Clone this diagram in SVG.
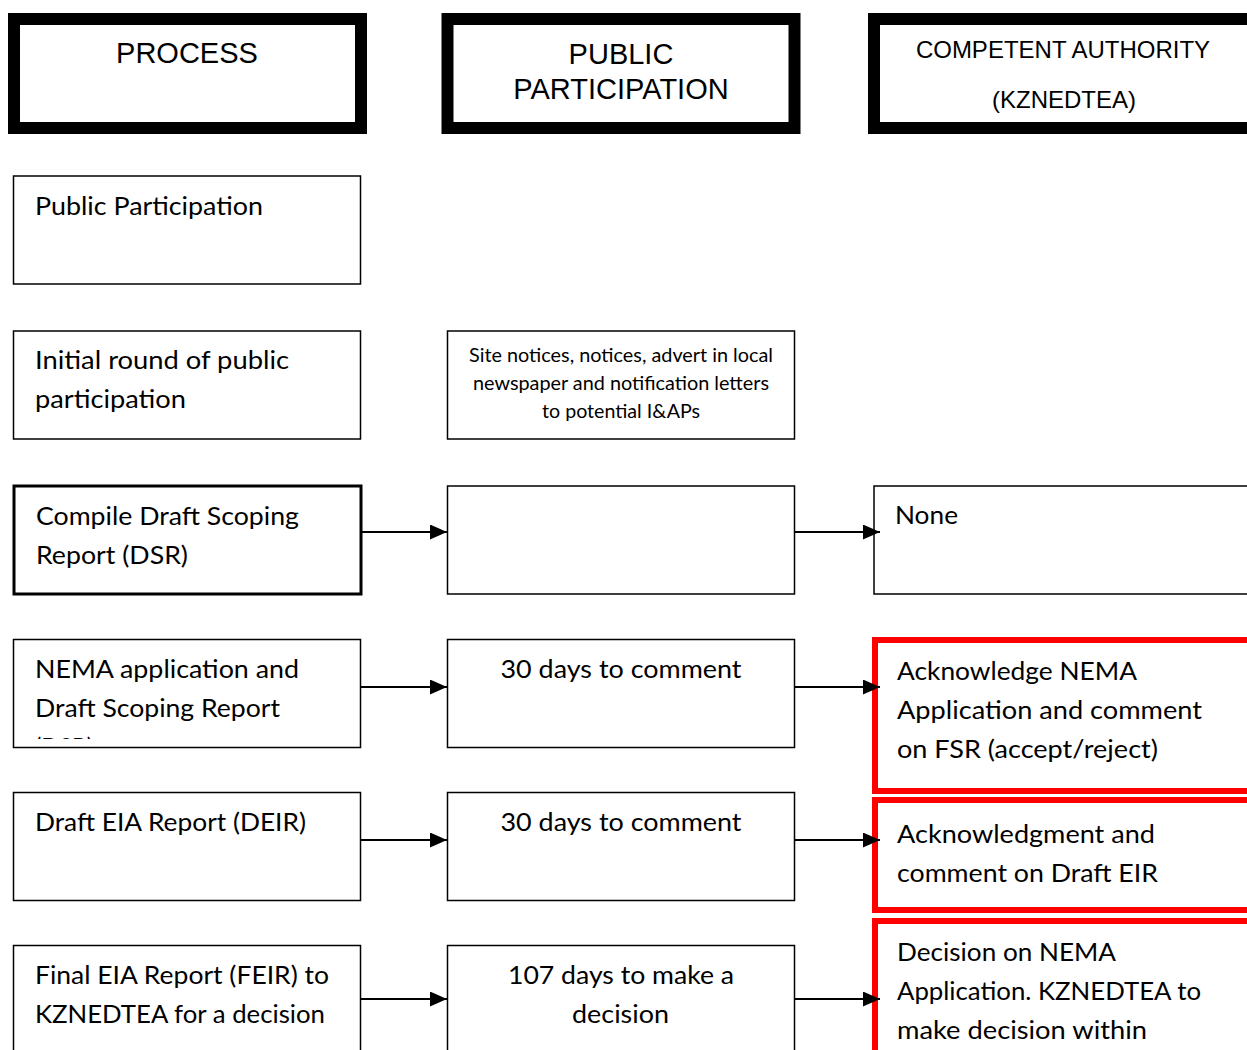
<svg xmlns="http://www.w3.org/2000/svg" width="1247" height="1050" viewBox="0 0 1247 1050">
<style>
.hdr{fill:#fff;stroke:#000;stroke-width:12}
.box{fill:#fff;stroke:#000;stroke-width:1.5}
.thick{fill:#fff;stroke:#000;stroke-width:3}
.red{fill:#fff;stroke:#ff0000;stroke-width:6}
.ht{font-family:"Liberation Sans",Arial,sans-serif;font-size:29px;fill:#000;text-anchor:middle}
.ht2{font-family:"Liberation Sans",Arial,sans-serif;font-size:24px;fill:#000;text-anchor:middle}
.t{font-family:Lato,"Open Sans",sans-serif;font-size:25px;fill:#000}
.s{font-family:Lato,"Open Sans",sans-serif;font-size:19px;fill:#000;text-anchor:middle}
.c{text-anchor:middle}
.conn line{stroke:#000;stroke-width:1.8}
</style>
<defs>
<marker id="ah" markerUnits="userSpaceOnUse" markerWidth="17" markerHeight="15" refX="17" refY="7.5" orient="auto">
<path d="M0,0 L17,7.5 L0,15 z" fill="#000"/>
</marker>
<clipPath id="clipNema"><rect x="13" y="639" width="348" height="100"/></clipPath>
</defs>
<rect width="1247" height="1050" fill="#fff"/>

<g id="hdr-process">
<rect class="hdr" x="14" y="19" width="347" height="109"/>
<text class="ht" x="187" y="63">PROCESS</text>
</g>
<g id="hdr-public">
<rect class="hdr" x="447.5" y="19" width="347" height="109"/>
<text class="ht" x="621" y="64">PUBLIC</text>
<text class="ht" x="621" y="99">PARTICIPATION</text>
</g>
<g id="hdr-authority">
<rect class="hdr" x="874" y="19" width="420" height="109"/>
<text class="ht2" x="1063" y="58">COMPETENT AUTHORITY</text>
<text class="ht2" x="1064" y="108">(KZNEDTEA)</text>
</g>

<g id="n-public-participation">
<rect class="box" x="13.5" y="176" width="347" height="108"/>
<text class="t" x="35" y="215" textLength="228" lengthAdjust="spacingAndGlyphs">Public Participation</text>
</g>
<g id="n-initial">
<rect class="box" x="13.5" y="331" width="347" height="108"/>
<text class="t" x="35" y="369" textLength="254" lengthAdjust="spacingAndGlyphs">Initial round of public</text>
<text class="t" x="35" y="408" textLength="151" lengthAdjust="spacingAndGlyphs">participation</text>
</g>
<g id="n-site-notices">
<rect class="box" x="447.5" y="331" width="347" height="108"/>
<text class="s" x="621" y="362" textLength="304" lengthAdjust="spacingAndGlyphs">Site notices, notices, advert in local</text>
<text class="s" x="621" y="390" textLength="296" lengthAdjust="spacingAndGlyphs">newspaper and notification letters</text>
<text class="s" x="621" y="418" textLength="158" lengthAdjust="spacingAndGlyphs">to potential I&amp;APs</text>
</g>

<g id="n-compile-dsr">
<rect class="thick" x="14" y="486" width="347" height="108"/>
<text class="t" x="36" y="525" textLength="263" lengthAdjust="spacingAndGlyphs">Compile Draft Scoping</text>
<text class="t" x="36" y="564" textLength="152" lengthAdjust="spacingAndGlyphs">Report (DSR)</text>
</g>
<g id="n-dsr-pp">
<rect class="box" x="447.5" y="486" width="347" height="108"/>
</g>
<g id="n-none">
<rect class="box" x="874" y="486" width="420" height="108"/>
<text class="t" x="895" y="524" textLength="63" lengthAdjust="spacingAndGlyphs">None</text>
</g>

<g id="n-nema-dsr">
<rect class="box" x="13.5" y="639.5" width="347" height="108"/>
<text class="t" x="35" y="678" textLength="264" lengthAdjust="spacingAndGlyphs">NEMA application and</text>
<text class="t" x="35" y="717" textLength="245" lengthAdjust="spacingAndGlyphs">Draft Scoping Report</text>
<text class="t" x="35" y="756" textLength="58" lengthAdjust="spacingAndGlyphs" clip-path="url(#clipNema)">(DSR)</text>
</g>
<g id="n-30days-1">
<rect class="box" x="447.5" y="639.5" width="347" height="108"/>
<text class="t c" x="621" y="678" textLength="241" lengthAdjust="spacingAndGlyphs">30 days to comment</text>
</g>
<g id="n-ack-nema">
<rect class="red" x="875" y="640" width="420" height="151"/>
<text class="t" x="897" y="680" textLength="240" lengthAdjust="spacingAndGlyphs">Acknowledge NEMA</text>
<text class="t" x="897" y="719" textLength="305" lengthAdjust="spacingAndGlyphs">Application and comment</text>
<text class="t" x="897" y="758" textLength="261" lengthAdjust="spacingAndGlyphs">on FSR (accept/reject)</text>
</g>

<g id="n-deir">
<rect class="box" x="13.5" y="792.5" width="347" height="108"/>
<text class="t" x="35" y="831" textLength="271" lengthAdjust="spacingAndGlyphs">Draft EIA Report (DEIR)</text>
</g>
<g id="n-30days-2">
<rect class="box" x="447.5" y="792.5" width="347" height="108"/>
<text class="t c" x="621" y="831" textLength="241" lengthAdjust="spacingAndGlyphs">30 days to comment</text>
</g>
<g id="n-ack-deir">
<rect class="red" x="875" y="800" width="420" height="110"/>
<text class="t" x="897" y="843" textLength="258" lengthAdjust="spacingAndGlyphs">Acknowledgment and</text>
<text class="t" x="897" y="882" textLength="261" lengthAdjust="spacingAndGlyphs">comment on Draft EIR</text>
</g>

<g id="n-feir">
<rect class="box" x="13.5" y="945.5" width="347" height="150"/>
<text class="t" x="35" y="984" textLength="294" lengthAdjust="spacingAndGlyphs">Final EIA Report (FEIR) to</text>
<text class="t" x="35" y="1023" textLength="290" lengthAdjust="spacingAndGlyphs">KZNEDTEA for a decision</text>
</g>
<g id="n-107days">
<rect class="box" x="447.5" y="945.5" width="347" height="150"/>
<text class="t c" x="621" y="984" textLength="226" lengthAdjust="spacingAndGlyphs">107 days to make a</text>
<text class="t c" x="620.5" y="1023" textLength="97" lengthAdjust="spacingAndGlyphs">decision</text>
</g>
<g id="n-decision">
<rect class="red" x="875" y="921" width="420" height="200"/>
<text class="t" x="897" y="961" textLength="219" lengthAdjust="spacingAndGlyphs">Decision on NEMA</text>
<text class="t" x="897" y="1000" textLength="304" lengthAdjust="spacingAndGlyphs">Application. KZNEDTEA to</text>
<text class="t" x="897" y="1039" textLength="250" lengthAdjust="spacingAndGlyphs">make decision within</text>
</g>

<g id="connectors" class="conn">
<line x1="361" y1="532" x2="447" y2="532" marker-end="url(#ah)"/>
<line x1="794" y1="532" x2="880" y2="532" marker-end="url(#ah)"/>
<line x1="361" y1="687" x2="447" y2="687" marker-end="url(#ah)"/>
<line x1="794" y1="687" x2="880" y2="687" marker-end="url(#ah)"/>
<line x1="361" y1="840" x2="447" y2="840" marker-end="url(#ah)"/>
<line x1="794" y1="840" x2="880" y2="840" marker-end="url(#ah)"/>
<line x1="361" y1="999" x2="447" y2="999" marker-end="url(#ah)"/>
<line x1="794" y1="999" x2="880" y2="999" marker-end="url(#ah)"/>
</g>
</svg>
